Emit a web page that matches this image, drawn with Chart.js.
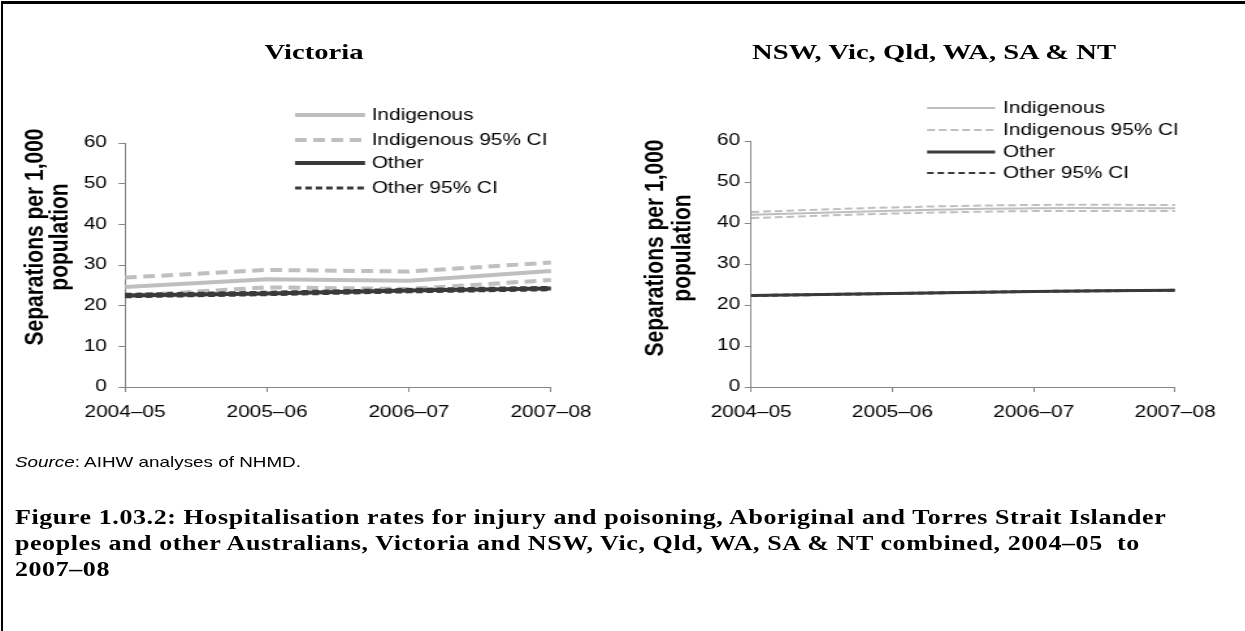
<!DOCTYPE html>
<html>
<head>
<meta charset="utf-8">
<script src="https://cdn.jsdelivr.net/npm/chart.js@4/dist/chart.umd.min.js"></script>
<style>
  body { margin: 0; background: #fff; }
  #frame { position: absolute; left: 1px; top: 1px; width: 1250px; height: 640px;
           border-top: 3px solid #000; border-left: 2px solid #000; }
  /* the picture is stretched sideways, so the whole page is laid out narrow and widened */
  #page { position: absolute; left: 0; top: 0; width: 958px; height: 631px;
          transform: scaleX(1.3); transform-origin: 0 0; }
  canvas { position: absolute; top: 0; }
  .title { position: absolute; top: 39px; text-align: center;
           font: bold 22px/26px "Liberation Serif", serif; color: #000; }
  #source { position: absolute; left: 11.5px; top: 453px; font: 14.5px/18px "Liberation Sans", Arial, sans-serif; }
  #caption { position: absolute; left: 11.5px; top: 504px; font: bold 20px/26px "Liberation Serif", serif;
             letter-spacing: 0.45px; white-space: nowrap; }
</style>
</head>
<body>
<div id="frame"></div>
<div id="page">
  <div class="title" style="left:141.5px;width:200px">Victoria</div>
  <div class="title" style="left:568.5px;width:300px">NSW, Vic, Qld, WA, SA &amp; NT</div>
  <canvas id="vicChart" width="477" height="440" style="left:0"></canvas>
  <canvas id="nswChart" width="480" height="440" style="left:476.9px"></canvas>
  <div id="source"><i>Source</i>: AIHW analyses of NHMD.</div>
  <div id="caption">Figure 1.03.2: Hospitalisation rates for injury and poisoning, Aboriginal and Torres Strait Islander<br>peoples and other Australians, Victoria and NSW, Vic, Qld, WA, SA &amp; NT combined, 2004–05&nbsp; to<br>2007–08</div>
</div>
<script>
// Data
const years = ['2004–05', '2005–06', '2006–07', '2007–08'];
const yTicks = [0, 10, 20, 30, 40, 50, 60];

const vicIndig   = [24.6, 26.5, 26.1, 28.5];
const vicIndigHi = [26.9, 28.8, 28.4, 30.6];
const vicIndigLo = [22.4, 24.5, 24.1, 26.3];
const vicOther   = [22.5, 23.0, 23.7, 24.2];
const vicOtherHi = [22.8, 23.3, 24.0, 24.5];
const vicOtherLo = [22.2, 22.7, 23.4, 23.9];

const nswIndig   = [42.0, 43.0, 43.6, 43.6];
const nswIndigHi = [42.7, 43.8, 44.4, 44.4];
const nswIndigLo = [41.2, 42.3, 42.9, 42.9];
const nswOther   = [22.3, 22.8, 23.3, 23.6];
const nswOtherHi = [22.4, 22.9, 23.4, 23.7];
const nswOtherLo = [22.2, 22.7, 23.2, 23.5];

const LIGHT = '#bfbfbf';
const DARK = '#3a3a3a';
const AXIS = '#868686';
const SANS = '"Liberation Sans", Arial, sans-serif';

// Draws the in-plot legend and the rotated y title
const panelDecor = {
  id: 'panelDecor',
  afterDraw(chart, args, opts) {
    const ctx = chart.ctx;
    ctx.save();
    const lg = opts.legend;
    ctx.font = '16px ' + SANS;
    ctx.textBaseline = 'middle';
    ctx.textAlign = 'left';
    chart.data.datasets.forEach(ds => {
      if (ds.legendRow === undefined) return;
      const y = lg.rows[ds.legendRow];
      ctx.strokeStyle = ds.borderColor;
      ctx.lineWidth = ds.legendWidth || ds.borderWidth;
      ctx.setLineDash(ds.legendDash || ds.borderDash || []);
      ctx.beginPath();
      ctx.moveTo(lg.x0, y);
      ctx.lineTo(lg.x1, y);
      ctx.stroke();
      ctx.setLineDash([]);
      ctx.fillStyle = '#000';
      ctx.fillText(ds.label, lg.tx, y + 1);
    });
    const yt = opts.yTitle;
    ctx.translate(yt.x, yt.y);
    ctx.rotate(-Math.PI / 2);
    ctx.font = 'bold 21px ' + SANS;
    ctx.textAlign = 'center';
    yt.lines.forEach((t, i) => ctx.fillText(t, 0, i * yt.lineHeight));
    ctx.restore();
  }
};

function makeSets(cfg) {
  return [
    { label: 'Other', data: cfg.other, borderColor: DARK, borderWidth: cfg.otherW, order: 0, legendRow: 2 },
    { label: 'Other 95% CI', data: cfg.otherHi, borderColor: DARK, borderWidth: cfg.otherCiW, borderDash: cfg.otherDash, order: 1, legendRow: 3 },
    { label: 'Other 95% CI', data: cfg.otherLo, borderColor: DARK, borderWidth: cfg.otherCiW, borderDash: cfg.otherDash, order: 1 },
    { label: 'Indigenous', data: cfg.indig, borderColor: LIGHT, borderWidth: cfg.indigW, order: 2, legendRow: 0 },
    { label: 'Indigenous 95% CI', data: cfg.indigHi, borderColor: LIGHT, borderWidth: cfg.indigCiW, borderDash: cfg.indigDash, order: 3, legendRow: 1 },
    { label: 'Indigenous 95% CI', data: cfg.indigLo, borderColor: LIGHT, borderWidth: cfg.indigCiW, borderDash: cfg.indigDash, order: 3 }
  ];
}

function makeChart(id, cfg) {
  return new Chart(document.getElementById(id), {
    type: 'line',
    data: { labels: years, datasets: makeSets(cfg) },
    plugins: [panelDecor],
    options: {
      responsive: false,
      animation: false,
      layout: { padding: { top: cfg.top, right: cfg.padRight, bottom: 0, left: 0 } },
      elements: { point: { radius: 0 }, line: { tension: cfg.tension, borderCapStyle: 'butt' } },
      plugins: {
        legend: { display: false },
        tooltip: { enabled: false },
        panelDecor: { legend: cfg.legend, yTitle: cfg.yTitle }
      },
      scales: {
        x: {
          offset: false,
          afterFit: s => { s.height = 53; },
          grid: { drawOnChartArea: false, color: AXIS, tickLength: 5 },
          border: { color: AXIS },
          ticks: { color: '#000', font: { size: 16, family: SANS }, padding: 11, maxRotation: 0, autoSkip: false }
        },
        y: {
          min: 0, max: 60,
          afterFit: s => { s.width = cfg.axisLeft; },
          afterBuildTicks: s => { s.ticks = yTicks.map(v => ({ value: v })); },
          grid: { drawOnChartArea: false, color: AXIS, tickLength: 5 },
          border: { color: AXIS },
          ticks: { color: '#000', font: { size: 16, family: SANS }, padding: cfg.tickPad }
        }
      }
    }
  });
}

makeChart('vicChart', {
  indig: vicIndig, indigHi: vicIndigHi, indigLo: vicIndigLo,
  other: vicOther, otherHi: vicOtherHi, otherLo: vicOtherLo,
  indigW: 4, indigCiW: 4, indigDash: [9, 5], otherW: 4, otherCiW: 3, otherDash: [5, 3],
  tension: 0, top: 143, padRight: 53.2, axisLeft: 96.2, tickPad: 9,
  legend: { x0: 226.9, x1: 280.8, tx: 285.9, rows: [115, 140, 163, 188] },
  yTitle: { x: 27.7, y: 237, lineHeight: 19, lines: ['Separations per 1,000', 'population'] }
});

makeChart('nswChart', {
  indig: nswIndig, indigHi: nswIndigHi, indigLo: nswIndigLo,
  other: nswOther, otherHi: nswOtherHi, otherLo: nswOtherLo,
  indigW: 2, indigCiW: 2, indigDash: [6, 3], otherW: 3, otherCiW: 2, otherDash: [5, 3],
  tension: 0.35, top: 141, padRight: 53.1, axisLeft: 100.8, tickPad: 3.5,
  legend: { x0: 236.2, x1: 288.5, tx: 294.6, rows: [108, 130, 152, 173] },
  yTitle: { x: 27.7, y: 248, lineHeight: 21, lines: ['Separations per 1,000', 'population'] }
});
</script>
</body>
</html>
